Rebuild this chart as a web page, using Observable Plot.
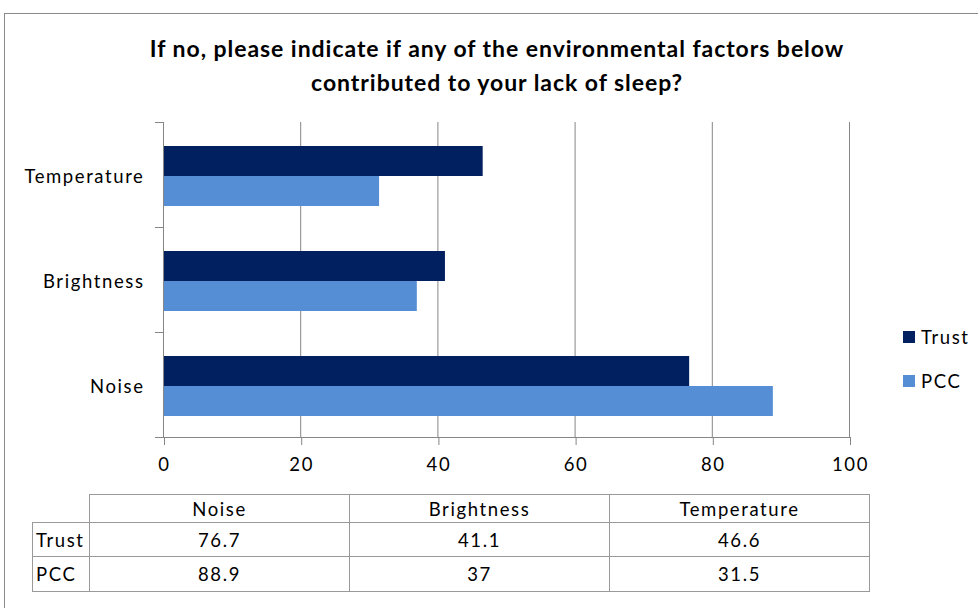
<!DOCTYPE html>
<html><head><meta charset="utf-8">
<script src="https://cdn.jsdelivr.net/npm/d3@7"></script>
<script src="https://cdn.jsdelivr.net/npm/@observablehq/plot@0.6"></script>
<style>
body{margin:0;background:#fff;font-family:Lato,"Open Sans",sans-serif;color:#000}
#wrap{position:relative;width:978px;height:608px;overflow:hidden;background:#fff}
#frame{position:absolute;left:4px;top:13px;width:1000px;height:640px;border:1.5px solid #8a8a8a;box-sizing:border-box}
#title{position:absolute;left:0;width:994px;top:31px;text-align:center;font-weight:bold;font-size:23px;letter-spacing:0.95px;line-height:34px}
#chart{position:absolute;left:0;top:0}
#chart svg text{letter-spacing:1.6px}
#legend{position:absolute;left:903px;top:315px;font-size:18.5px;letter-spacing:1.6px}
.li{display:flex;align-items:center;height:44px}
.sw{width:12px;height:12px;margin-right:6px}
#tbl{position:absolute;left:32px;top:494px;border-collapse:collapse;font-size:18.5px;letter-spacing:1.6px;table-layout:fixed}
#tbl td{border:1px solid #9a9a9a;text-align:center;padding:0}
#tbl td.rh{text-align:left;padding-left:3px}
</style></head>
<body>
<div id="wrap">
<div id="frame"></div>
<div id="title">If no, please indicate if any of the environmental factors below<br>contributed to your lack of sleep?</div>
<div id="chart"></div>
<div id="legend"></div>
<table id="tbl"></table>
</div>
<script>
const categories = ["Noise", "Brightness", "Temperature"];
const series = ["Trust", "PCC"];
const trust = [76.7, 41.1, 46.6];
const pcc = [88.9, 37, 31.5];
const tableTrust = ["76.7", "41.1", "46.6"];
const tablePcc = ["88.9", "37", "31.5"];
const xTicks = [0, 20, 40, 60, 80, 100];
const colors = ["#002060", "#558ed5"];

const values = [trust, pcc];
const rows = [];
series.forEach((s, si) => categories.forEach((c, ci) => rows.push({series: s, category: c, value: values[si][ci]})));
const yDomain = [...categories].reverse();
const gridColor = "#868686";

const chart = Plot.plot({
  width: 978, height: 608,
  marginLeft: 163, marginRight: 129, marginTop: 122, marginBottom: 171,
  style: {fontFamily: "Lato, 'Open Sans', sans-serif", fontSize: "18.5px", color: "#000", background: "transparent"},
  x: {domain: [0, 100], ticks: xTicks},
  y: {domain: yDomain, padding: 0},
  color: {domain: series, range: colors},
  marks: [
    Plot.ruleX(xTicks.slice(1), {stroke: gridColor}),
    Plot.barX(rows.filter(d => d.series === series[0]), {x: "value", y: "category", fill: "series", insetTop: 24, insetBottom: 51}),
    Plot.barX(rows.filter(d => d.series === series[1]), {x: "value", y: "category", fill: "series", insetTop: 54, insetBottom: 21}),
    Plot.frame({anchor: "left", stroke: gridColor}),
    Plot.frame({anchor: "bottom", stroke: gridColor, insetLeft: -8}),
    Plot.ruleY(yDomain, {y: d => d, x1: -1.17, x2: 0, dy: -52.5, stroke: gridColor}),
    Plot.axisX({ticks: xTicks, tickSize: 8, tickPadding: 12, stroke: gridColor, fill: "#000", label: null, fontSize: 18.5, dx: 1}),
    Plot.axisY({tickSize: 0, tickPadding: 19, label: null, fill: "#000", fontSize: 18.5, dy: 2})
  ]
});
document.getElementById("chart").appendChild(chart);

const legend = document.getElementById("legend");
series.forEach((s, i) => {
  const d = document.createElement("div");
  d.className = "li";
  d.innerHTML = `<span class="sw" style="background:${colors[i]}"></span><span>${s}</span>`;
  legend.appendChild(d);
});

const tbl = document.getElementById("tbl");
const widths = [57, 260, 260, 260];
const heights = [28, 34, 35];
let html = `<colgroup>${widths.map(w => `<col style="width:${w}px">`).join("")}</colgroup>`;
html += `<tr style="height:${heights[0]}px"><td style="border-top:none;border-left:none"></td>` +
  categories.map(c => `<td>${c}</td>`).join("") + "</tr>";
[tableTrust, tablePcc].forEach((vals, si) => {
  html += `<tr style="height:${heights[si + 1]}px"><td class="rh">${series[si]}</td>` + vals.map(v => `<td>${v}</td>`).join("") + "</tr>";
});
tbl.innerHTML = html;
tbl.style.width = widths.reduce((a, b) => a + b, 0) + "px";
</script>
</body></html>
